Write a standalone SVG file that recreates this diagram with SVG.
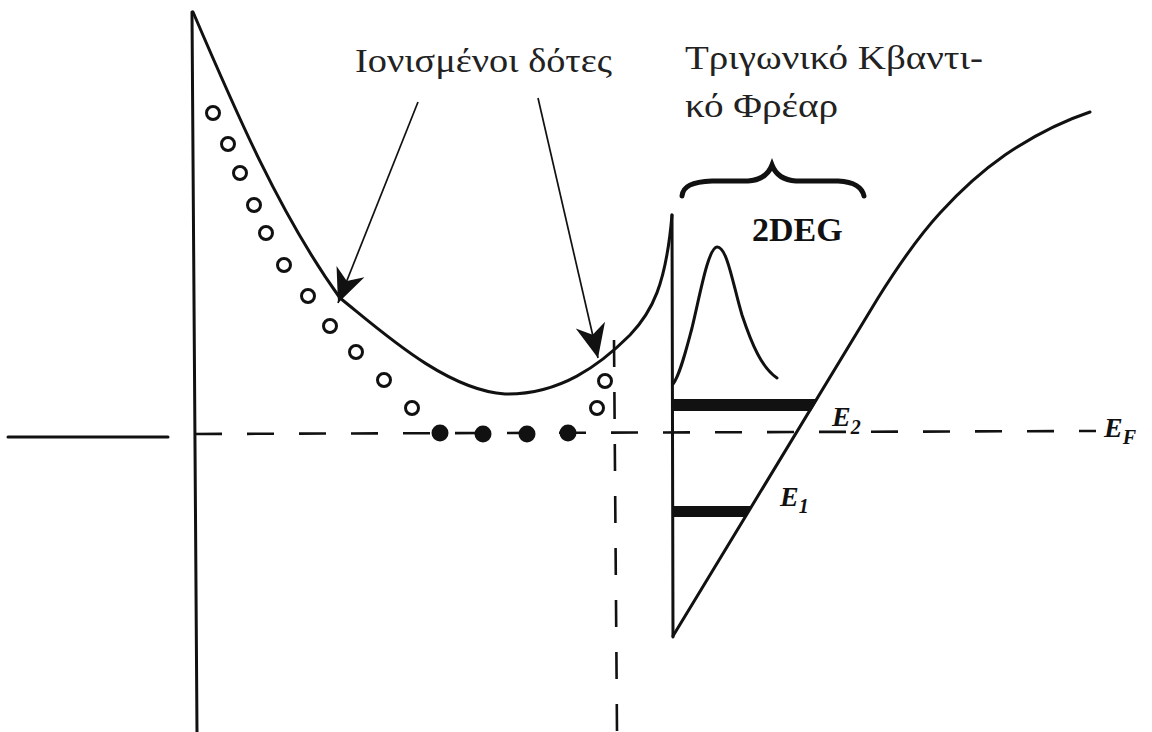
<svg xmlns="http://www.w3.org/2000/svg" width="1152" height="732" viewBox="0 0 1152 732">
<defs>
<style>
.ln{fill:none;stroke:#111;stroke-width:3;stroke-linecap:round;stroke-linejoin:round}
.thin{fill:none;stroke:#111;stroke-width:1.7}
.dash{fill:none;stroke:#111;stroke-width:2.6;stroke-dasharray:27 25}
.od{fill:none;stroke:#111;stroke-width:3}
.fd{fill:#111}
.bar{fill:#111}
.gr{font-family:"Liberation Serif","DejaVu Serif",serif;font-size:34px;fill:#222}
.lab{font-family:"Liberation Serif","DejaVu Serif",serif;font-weight:bold;font-style:italic;font-size:28px;fill:#111}
.sub{font-size:20px}
.deg{font-family:"Liberation Serif","DejaVu Serif",serif;font-weight:bold;font-size:34px;fill:#111}
</style>
<marker id="ah" markerUnits="userSpaceOnUse" markerWidth="40" markerHeight="40" refX="0" refY="0" viewBox="-30 -15 32 30" orient="auto">
<path d="M0,0 L-27,-12 L-19,0 L-27,12 Z" fill="#111"/>
</marker>
</defs>
<rect width="1152" height="732" fill="#fff"/>

<g id="axes">
<line class="ln" x1="192" y1="12" x2="197" y2="732"/>
<line class="ln" x1="8" y1="437" x2="168" y2="437"/>
<line class="dash" x1="195" y1="434" x2="1096" y2="431"/>
<line class="dash" x1="614" y1="340" x2="617" y2="732"/>
</g>

<g id="band">
<path class="ln" d="M193,12 C235,110 280,215 340,298 C380,330 445,390 505,394 C560,395 600,365 630,335 C652,312 666,285 672,215"/>
<line class="ln" x1="672" y1="215" x2="673" y2="637"/>
<path class="ln" d="M673,636 L878,298 C898,266 918,237 940,213 C960,191 982,171 1005,155 C1033,136 1060,122 1090,112"/>
</g>

<g id="donors">
<circle class="od" cx="213" cy="113" r="6.5"/>
<circle class="od" cx="228" cy="144" r="6.5"/>
<circle class="od" cx="240" cy="173" r="6.5"/>
<circle class="od" cx="254" cy="205" r="6.5"/>
<circle class="od" cx="266" cy="233" r="6.5"/>
<circle class="od" cx="284" cy="265" r="6.5"/>
<circle class="od" cx="308" cy="296" r="6.5"/>
<circle class="od" cx="330" cy="326" r="6.5"/>
<circle class="od" cx="356" cy="352" r="6.5"/>
<circle class="od" cx="384" cy="380" r="6.5"/>
<circle class="od" cx="412" cy="408" r="6.5"/>
<circle class="od" cx="605" cy="381" r="6.5"/>
<circle class="od" cx="597" cy="408" r="6.5"/>
<circle class="fd" cx="440" cy="433" r="8.5"/>
<circle class="fd" cx="483" cy="434" r="8.5"/>
<circle class="fd" cx="527" cy="434" r="8.5"/>
<circle class="fd" cx="568" cy="433" r="8.5"/>
</g>

<g id="well">
<path class="ln" d="M673,384 C680,375 686,350 692,328 C700,295 708,248 717,247 C727,246 733,285 742,315 C752,345 762,368 777,378"/>
<polygon class="bar" points="673,399 818,399 811,411 673,411"/>
<polygon class="bar" points="673,506 752,506 745,517 673,517"/>
<path fill="none" stroke="#111" stroke-width="5" stroke-linecap="round" d="M682,196 C683,186 692,182 712,181 L748,181 C763,180 769,173 772,165 C775,173 781,180 796,181 L838,181 C855,182 862,187 864,196"/>
</g>

<g id="connectors">
<line class="thin" x1="418" y1="102" x2="338" y2="303" marker-end="url(#ah)"/>
<line class="thin" x1="538" y1="98" x2="598" y2="358" marker-end="url(#ah)"/>
</g>

<g id="labels">
<text class="gr" x="355" y="72" textLength="257" lengthAdjust="spacingAndGlyphs">Ιονισμένοι δότες</text>
<text class="gr" x="685" y="69" textLength="298" lengthAdjust="spacingAndGlyphs">Τριγωνικό Κβαντι-</text>
<text class="gr" x="685" y="117" textLength="153" lengthAdjust="spacingAndGlyphs">κό Φρέαρ</text>
<text class="deg" x="752" y="241">2DEG</text>
<text class="lab" x="832" y="426">E<tspan class="sub" dy="8">2</tspan></text>
<text class="lab" x="780" y="506">E<tspan class="sub" dy="7">1</tspan></text>
<text class="lab" x="1104" y="437">E<tspan class="sub" dy="7">F</tspan></text>
</g>
</svg>
